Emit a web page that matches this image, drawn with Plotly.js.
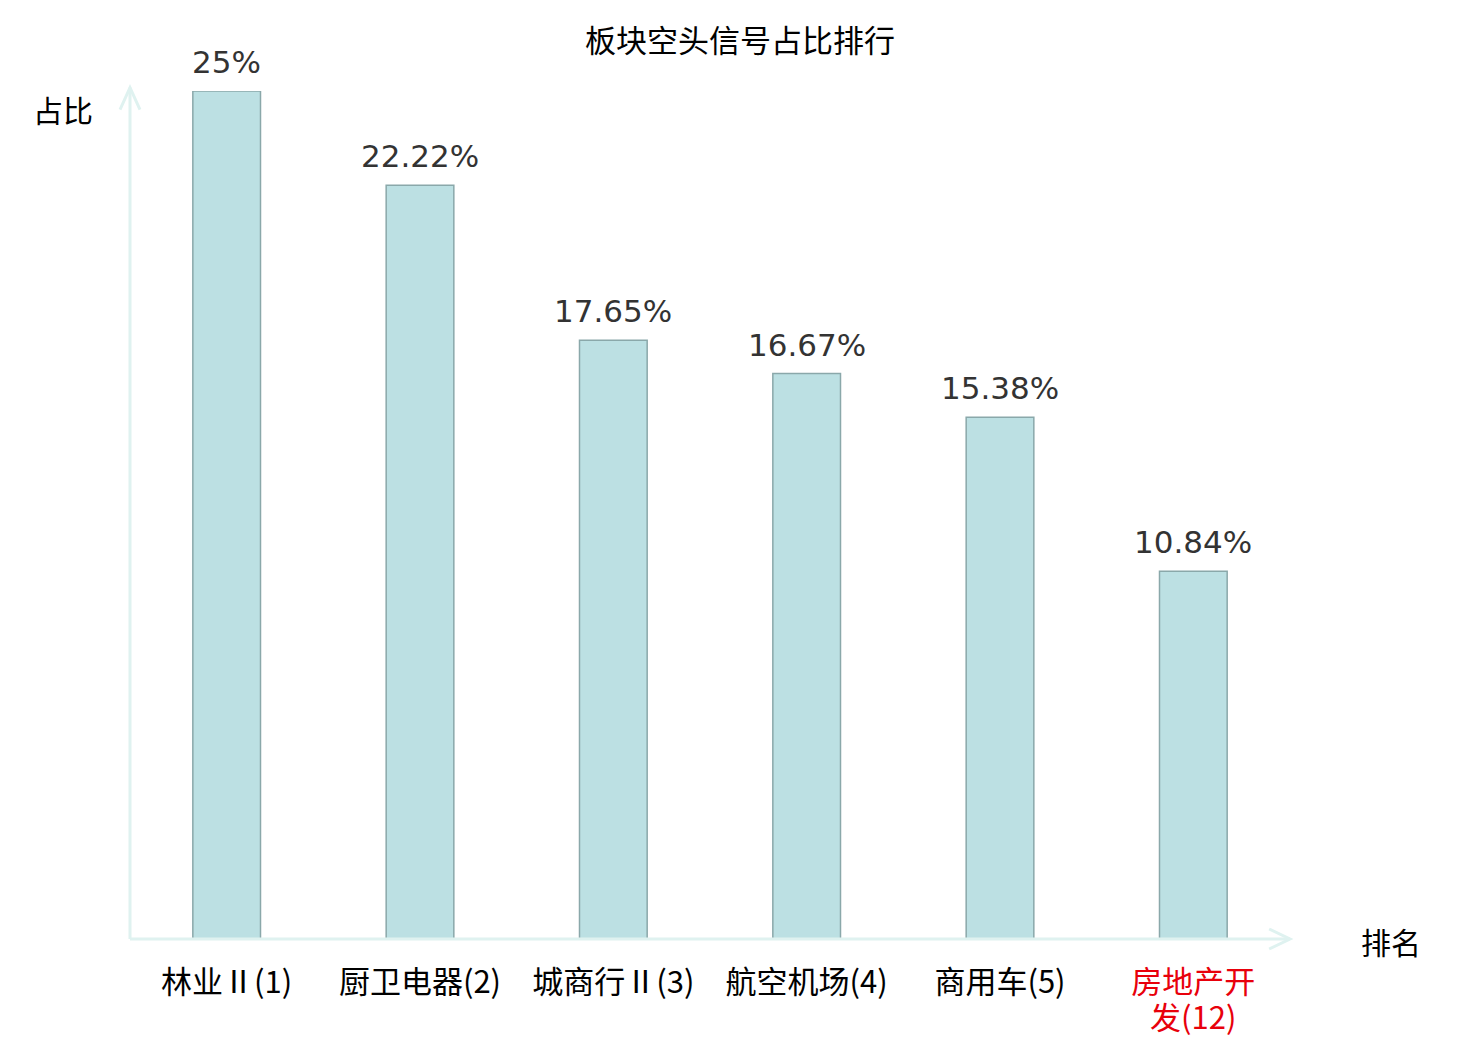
<!DOCTYPE html>
<html>
<head>
<meta charset="utf-8">
<script src="https://cdn.plot.ly/plotly-3.0.1.min.js"></script>
<style>
  html, body { margin: 0; padding: 0; background: #fff; }
  #chart { width: 1480px; height: 1040px; }
</style>
</head>
<body>
<div id="chart"></div>
<script>
// sector names with their rank in brackets; the long one wraps onto a second line
const sectors = ['林业Ⅱ(1)', '厨卫电器(2)', '城商行Ⅱ(3)', '航空机场(4)', '商用车(5)', '房地产开'];
const wrapTail = ['', '', '', '', '', '发(12)'];
const shares = [25, 22.22, 17.65, 16.67, 15.38, 10.84];
const shareLabels = ['25%', '22.22%', '17.65%', '16.67%', '15.38%', '10.84%'];
const highlight = [false, false, false, false, false, true];

const cjk = '"Noto Sans CJK SC", "Noto Sans", sans-serif';
const axisColor = '#dff2f0';
const red = '#e8000b';

const ticktext = sectors.map((s, i) => highlight[i] ? `<span style="color:${red}">${s}</span>` : s);

const trace = {
    type: 'bar',
    x: sectors.map((s, i) => i),
    y: shares,
    width: 0.35,
    marker: { color: '#bce0e3', line: { color: '#8aa8aa', width: 1.5 } },
    hoverinfo: 'skip'
};

// value labels sit just above each bar
const labels = shares.map((v, i) => ({
    x: i, y: v, xref: 'x', yref: 'y',
    text: shareLabels[i], showarrow: false,
    yanchor: 'bottom', yshift: 9,
    font: { family: 'DejaVu Sans, sans-serif', size: 31, color: '#333' }
}));

// second line of wrapped tick labels, set tighter than plotly's own line spacing
const tails = [];
wrapTail.forEach((t, i) => {
    if (!t) return;
    tails.push({
        x: i, xref: 'x', yref: 'paper', y: 0, yanchor: 'middle', yshift: -76,
        text: t, showarrow: false,
        font: { family: cjk, size: 31, color: highlight[i] ? red : '#000' }
    });
});

const layout = {
    width: 1480, height: 1040,
    margin: { l: 130, r: 190, t: 91, b: 101 },
    paper_bgcolor: '#fff', plot_bgcolor: '#fff',
    showlegend: false,
    title: { text: '板块空头信号占比排行', x: 0.5, xanchor: 'center', y: 0.96, yanchor: 'middle',
             font: { family: cjk, size: 31, color: '#000' } },
    xaxis: {
        range: [-0.5, 5.5], tickvals: sectors.map((s, i) => i), ticktext: ticktext,
        showgrid: false, zeroline: false, showline: false, ticks: '',
        ticklabelstandoff: 22,
        tickfont: { family: cjk, size: 31, color: '#000' }, fixedrange: true
    },
    yaxis: {
        range: [0, 25], showgrid: false, zeroline: false, showline: false,
        showticklabels: false, ticks: '', fixedrange: true
    },
    shapes: [
        // axes with open arrow heads
        { type: 'line', xref: 'paper', yref: 'paper', x0: 0, y0: 0, x1: 1, y1: 0, line: { color: axisColor, width: 3 } },
        { type: 'line', xref: 'paper', yref: 'paper', x0: 0, y0: 0, x1: 0, y1: 1.004, line: { color: axisColor, width: 3 } },
        { type: 'path', xref: 'paper', yref: 'paper', path: 'M -0.0086,0.978 L 0,1.004 L 0.0086,0.978', line: { color: axisColor, width: 3 } },
        { type: 'path', xref: 'paper', yref: 'paper', path: 'M 0.982,0.0118 L 1,0 L 0.982,-0.0118', line: { color: axisColor, width: 3 } }
    ],
    annotations: labels.concat(tails, [
        { xref: 'paper', yref: 'paper', x: -0.058, y: 1.0, text: '占比', showarrow: false,
          xanchor: 'center', yanchor: 'middle', yshift: -18, font: { family: cjk, size: 30, color: '#000' } },
        { xref: 'paper', yref: 'paper', x: 1.087, y: 0, text: '排名', showarrow: false,
          xanchor: 'center', yanchor: 'middle', yshift: -2, font: { family: cjk, size: 30, color: '#000' } }
    ])
};

Plotly.newPlot('chart', [trace], layout, { displayModeBar: false, staticPlot: true });
</script>
</body>
</html>
